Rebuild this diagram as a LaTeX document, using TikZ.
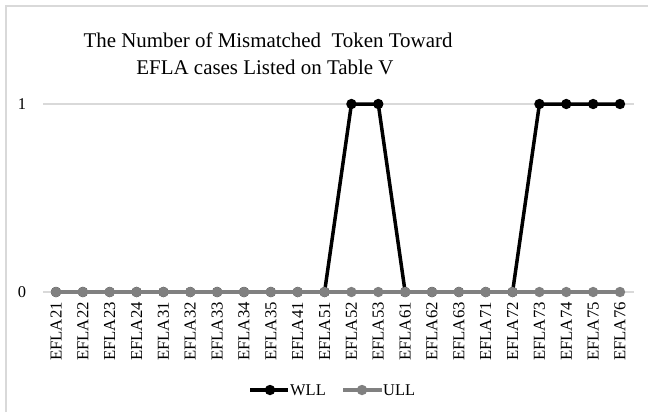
\documentclass[tikz,border=0pt]{standalone}
\usepackage{fontspec}
\setmainfont{Liberation Serif}
\definecolor{ullgray}{HTML}{808080}
\definecolor{gridgray}{HTML}{D9D9D9}
\definecolor{framegray}{HTML}{D9D9D9}
\tikzset{
  wll/.style={black, line width=3.5bp, line join=round},
  ull/.style={ullgray, line width=3.5bp, line join=round},
  gridline/.style={gridgray, line width=1.3bp},
  cattext/.style={font=\fontsize{16.8}{17}\selectfont, rotate=90, anchor=east, inner sep=0pt},
  axtext/.style={font=\fontsize{16.5}{17}\selectfont, inner sep=0pt},
  titletext/.style={font=\fontsize{21}{27}\selectfont, anchor=base, inner sep=0pt},
  legtext/.style={font=\fontsize{16.5}{17}\selectfont, anchor=west, inner sep=0pt},
}
\begin{document}
\begin{tikzpicture}[x=1bp,y=-1bp]
\useasboundingbox (0,0) rectangle (648,412);
\fill[white] (0,0) rectangle (648,412);
\draw[framegray, line width=1.5bp] (6,412) -- (6,6) -- (648,6);
% title
\node[titletext] (title1) at (268,47) {The Number of Mismatched\ \ Token Toward};
\node[titletext] (title2) at (265,74) {EFLA cases Listed on Table V};
% grid
\coordinate (g1a) at (43,104); \coordinate (g1b) at (634,104);
\coordinate (g0a) at (43,292); \coordinate (g0b) at (634,292);
\draw[gridline] (g1a) -- (g1b);
\draw[gridline] (g0a) -- (g0b);
\node[axtext] (ylab1) at (22,104) {1};
\node[axtext] (ylab0) at (22,292) {0};
% categories and data
\foreach \c [count=\n from 0] in {21,22,23,24,31,32,33,34,35,41,51,52,53,61,62,63,71,72,73,74,75,76}{
  \pgfmathsetmacro{\xx}{56+\n*26.857}
  \node[cattext] (cat\n) at (\xx,302) {EFLA\c};
  \coordinate (u\n) at (\xx,292);
}
\foreach \v [count=\n from 0] in {0,0,0,0,0,0,0,0,0,0,0,1,1,0,0,0,0,0,1,1,1,1}{
  \pgfmathsetmacro{\xx}{56+\n*26.857}
  \pgfmathsetmacro{\yy}{292-188*\v}
  \coordinate (w\n) at (\xx,\yy);
}
\draw[wll] (w0) \foreach \i in {1,...,21}{ -- (w\i)};
\foreach \i in {0,...,21}{ \fill[black] (w\i) circle (5.2); }
\draw[ull] (u0) \foreach \i in {1,...,21}{ -- (u\i)};
\foreach \i in {0,...,21}{ \fill[ullgray] (u\i) circle (5.2); }
% legend
\coordinate (lwa) at (250,390); \coordinate (lwb) at (288,390); \coordinate (lwd) at (270,390);
\coordinate (lua) at (343,390); \coordinate (lub) at (382,390); \coordinate (lud) at (362,390);
\draw[wll] (lwa) -- (lwb); \fill[black] (lwd) circle (5.2);
\node[legtext] (legw) at (290,390) {WLL};
\draw[ull] (lua) -- (lub); \fill[ullgray] (lud) circle (5.2);
\node[legtext] (legu) at (383,390) {ULL};
\end{tikzpicture}
\end{document}
